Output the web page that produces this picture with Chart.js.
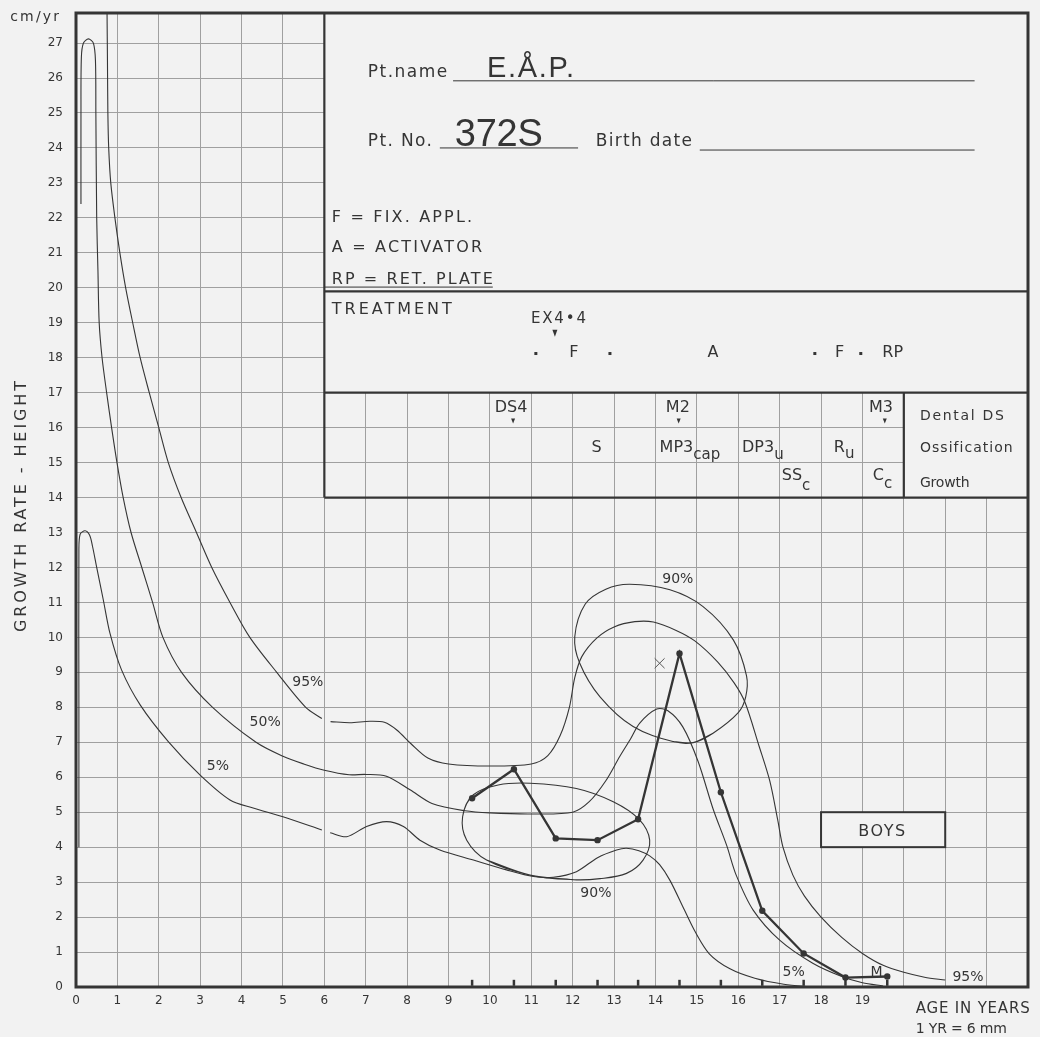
<!DOCTYPE html>
<html>
<head>
<meta charset="utf-8">
<script src="https://cdn.jsdelivr.net/npm/chart.js@4.4.1/dist/chart.umd.min.js"></script>
<style>
  html, body { margin: 0; background: #f2f2f2; }
  canvas { display: block; }
</style>
</head>
<body>
<canvas id="growth" width="1040" height="1037"></canvas>
<script>
const ink = '#353535';
const paper = '#f2f2f2';
const gridInk = '#a0a0a0';

// percentile curves as [age, cm/yr] pairs
const p95Early = [[0.75,27.86],[0.76,26.5],[0.77,25],[0.79,24],[0.84,23],[0.94,22],[1.06,21],[1.2,20],[1.37,19],[1.55,18],[1.77,17],[2.0,16],[2.23,15],[2.54,14],[2.91,13],[3.28,12],[3.72,11],[4.2,10],[4.85,9],[5.55,8],[5.94,7.68]];
const p95Late = [[6.15,7.59],[6.62,7.56],[7.1,7.6],[7.45,7.57],[7.75,7.35],[8.1,6.95],[8.5,6.55],[9.0,6.38],[10.0,6.32],[11.0,6.38],[11.4,6.62],[11.7,7.2],[11.92,8.0],[12.05,8.85],[12.22,9.45],[12.58,9.98],[13.0,10.3],[13.5,10.45],[13.95,10.44],[14.5,10.2],[14.95,9.9],[15.5,9.3],[15.9,8.7],[16.16,8.15],[16.5,6.9],[16.76,5.9],[16.95,4.8],[17.08,4.0],[17.32,3.2],[17.6,2.6],[18.0,2.0],[18.5,1.42],[19.0,0.96],[19.5,0.62],[20.0,0.42],[20.5,0.28],[21.0,0.2]];
const p50Curve = [[0.12,22.4],[0.12,25],[0.13,26.6],[0.18,27.0],[0.3,27.12],[0.42,27.0],[0.47,26.5],[0.48,25],[0.5,22],[0.53,20.5],[0.56,19],[0.63,18],[0.74,17],[0.86,16],[0.99,15],[1.14,14],[1.33,13],[1.59,12],[1.85,11],[2.1,10],[2.55,9],[3.3,8],[4.35,7],[5.0,6.6],[5.5,6.38],[6.0,6.2],[6.6,6.07],[7.0,6.08],[7.5,6.03],[8.07,5.64],[8.6,5.25],[9.4,5.04],[10.0,4.98],[11.0,4.95],[12.0,5.0],[12.4,5.3],[12.8,5.9],[13.14,6.6],[13.4,7.1],[13.62,7.55],[14.03,7.95],[14.3,7.9],[14.66,7.44],[15.03,6.45],[15.39,5.1],[15.72,4.05],[15.95,3.2],[16.36,2.2],[17.0,1.34],[17.8,0.68],[18.5,0.3],[19.0,0.12],[19.5,0.03]];
const p5Early = [[0.07,4.0],[0.07,8.0],[0.07,12.5],[0.1,12.95],[0.22,13.05],[0.33,12.92],[0.4,12.6],[0.5,12.0],[0.66,11.07],[0.82,10.12],[1.1,9.07],[1.55,8.07],[2.23,7.02],[3.0,6.06],[3.72,5.35],[4.28,5.12],[5.0,4.87],[5.94,4.49]];
const p5Late = [[6.14,4.41],[6.54,4.3],[7.02,4.59],[7.5,4.73],[7.91,4.59],[8.31,4.2],[8.79,3.92],[9.6,3.63],[10.4,3.35],[11.05,3.16],[11.53,3.14],[12.09,3.3],[12.6,3.7],[13.06,3.92],[13.3,3.97],[13.6,3.9],[13.86,3.75],[14.1,3.5],[14.35,3.05],[14.7,2.2],[14.95,1.6],[15.3,0.95],[15.8,0.52],[16.4,0.25],[17.1,0.08],[17.8,0.0]];
const ring90Upper = [[14.91,6.99],[14.43,7.02],[13.46,7.45],[12.66,8.3],[12.17,9.26],[12.05,10.02],[12.3,10.95],[12.8,11.38],[13.38,11.52],[14.35,11.36],[15.15,10.88],[15.88,9.93],[16.2,8.9],[16.18,8.3],[16.0,7.85],[15.39,7.26],[14.91,6.99]];
const ring90Lower = [[10.97,3.2],[9.92,3.63],[9.44,4.2],[9.34,4.87],[9.6,5.5],[10.2,5.78],[10.97,5.83],[12.09,5.68],[12.98,5.3],[13.6,4.8],[13.86,4.2],[13.7,3.63],[13.3,3.25],[12.66,3.1],[12.01,3.07],[10.97,3.2]];

// the patient
const patientAges = [9.57, 10.58, 11.59, 12.6, 13.58, 14.58, 15.58, 16.58, 17.58, 18.59, 19.6];
const patientRates = [5.4, 6.23, 4.25, 4.2, 4.8, 9.54, 5.57, 2.18, 0.96, 0.27, 0.3];
const peakCross = [[14.1, 9.26]];

const ageLabels = ['0','1','2','3','4','5','6','7','8','9','10','11','12','13','14','15','16','17','18','19'];
const curveLabels = ['95%', '50%', '5%', '90%', '90%', '5%', '95%', 'M'];
const curveLabelAt = [[5.6, 8.7], [4.57, 7.58], [3.43, 6.32], [14.54, 11.67], [12.56, 2.69], [17.34, 0.42], [21.55, 0.29], [19.34, 0.43]];

const FONT = '"DejaVu Sans", sans-serif';

const toXY = pts => pts.map(([x, y]) => ({ x, y }));
const curve = (pts, extra) => Object.assign({
    data: toXY(pts),
    showLine: true,
    borderColor: ink,
    borderWidth: 1.1,
    pointRadius: 0,
    tension: 0.3
}, extra || {});
// closed ring: carry one point over each end so the join is smooth
const ring = pts => curve([pts[pts.length - 2]].concat(pts, [pts[1]]), { tension: 0.35 });

// text spread so it runs from x0 to x1 (pixels)
function spacedText(ctx, s, x0, x1, y, font) {
    ctx.font = font;
    ctx.letterSpacing = '0px';
    const w = ctx.measureText(s).width;
    let gap = s.length > 1 ? (x1 - x0 - w) / (s.length - 1) : 0;
    if (gap < -1) gap = -1;
    ctx.letterSpacing = gap + 'px';
    ctx.textAlign = 'left';
    ctx.fillText(s, x0, y);
    ctx.letterSpacing = '0px';
}

function plainText(ctx, s, x, y, font, align) {
    ctx.font = font;
    ctx.letterSpacing = '0px';
    ctx.textAlign = align || 'center';
    ctx.fillText(s, x, y);
}

function arrowDown(ctx, x, y, w, h) {
    ctx.beginPath();
    ctx.moveTo(x - w / 2, y - h / 2);
    ctx.lineTo(x + w / 2, y - h / 2);
    ctx.lineTo(x, y + h / 2);
    ctx.closePath();
    ctx.fill();
}

const sheet = {
    id: 'sheet',
    beforeDatasetsDraw(chart) {
        const { ctx, chartArea: area, scales: { x, y } } = chart;
        const X = v => x.getPixelForValue(v);
        const Y = v => y.getPixelForValue(v);
        ctx.save();

        // blank panels over the grid
        ctx.fillStyle = paper;
        ctx.fillRect(X(6), area.top, X(23) - X(6), Y(17) - area.top);
        ctx.fillRect(X(20), Y(17), X(23) - X(20), Y(14) - Y(17));
        ctx.fillRect(X(18), Y(5), X(21) - X(18), Y(4) - Y(5));

        // panel rules
        ctx.strokeStyle = ink;
        ctx.lineWidth = 2.2;
        ctx.beginPath();
        ctx.moveTo(X(6), area.top); ctx.lineTo(X(6), Y(14));
        [19.9, 17, 14].forEach(v => { ctx.moveTo(X(6), Y(v)); ctx.lineTo(X(23), Y(v)); });
        ctx.moveTo(X(20), Y(17)); ctx.lineTo(X(20), Y(14));
        ctx.stroke();
        ctx.lineWidth = 2;
        ctx.strokeRect(X(18), Y(5), X(21) - X(18), Y(4) - Y(5));

        // underlines on the form
        ctx.lineWidth = 1;
        ctx.beginPath();
        [[9.11, 21.71, 25.92], [8.79, 12.13, 24.0], [15.07, 21.71, 23.94], [6.0, 10.07, 20.02]].forEach(([a, b, v]) => {
            ctx.moveTo(X(a), Y(v)); ctx.lineTo(X(b), Y(v));
        });
        ctx.stroke();

        ctx.fillStyle = ink;
        ctx.textBaseline = 'alphabetic';
        const f = s => s + 'px ' + FONT;
        spacedText(ctx, 'Pt.name', X(7.05), X(8.97), Y(26.03), f(17));
        spacedText(ctx, 'E.Å.P.', X(9.93), X(12.03), Y(26.03), '29px "Liberation Sans", sans-serif');
        spacedText(ctx, 'Pt. No.', X(7.05), X(8.6), Y(24.06), f(17));
        spacedText(ctx, '372S', X(9.15), X(11.28), Y(24.06), '38px "Liberation Sans", sans-serif');
        spacedText(ctx, 'Birth date', X(12.56), X(14.88), Y(24.06), f(17));
        spacedText(ctx, 'F = FIX. APPL.', X(6.18), X(9.57), Y(21.88), f(16));
        spacedText(ctx, 'A = ACTIVATOR', X(6.18), X(9.81), Y(21.02), f(16));
        spacedText(ctx, 'RP = RET. PLATE', X(6.18), X(10.07), Y(20.11), f(16));
        spacedText(ctx, 'TREATMENT', X(6.18), X(9.08), Y(19.25), f(16));
        spacedText(ctx, 'EX4•4', X(10.99), X(12.32), Y(18.99), f(15));
        arrowDown(ctx, X(11.57), Y(18.7), 5, 7);

        // treatment row
        [11.11, 12.9, 17.85, 18.96].forEach(v => ctx.fillRect(X(v) - 1.5, Y(18.12) - 1.5, 3, 3));
        [['F', 12.03], ['A', 15.39], ['F', 18.45], ['RP', 19.73]].forEach(([s, v]) => plainText(ctx, s, X(v), Y(18.02), f(16)));

        // dental / ossification / growth table
        [['DS4', 10.51], ['M2', 14.54], ['M3', 19.45]].forEach(([s, v]) => plainText(ctx, s, X(v), Y(16.45), f(16)));
        [10.56, 14.56, 19.54].forEach(v => arrowDown(ctx, X(v), Y(16.19), 4, 5));
        plainText(ctx, 'S', X(12.58), Y(15.3), f(16));
        const sub = (main, small, left, base, drop) => {
            plainText(ctx, main, X(left), Y(base), f(16), 'left');
            const w = ctx.measureText(main).width;
            plainText(ctx, small, X(left) + w, Y(base) + drop, f(15), 'left');
        };
        sub('MP3', 'cap', 14.1, 15.3, 7);
        sub('DP3', 'u', 16.09, 15.3, 7);
        sub('R', 'u', 18.31, 15.3, 6);
        sub('SS', 'c', 17.05, 14.5, 10);
        sub('C', 'c', 19.25, 14.5, 8);
        spacedText(ctx, 'Dental DS', X(20.39), X(22.42), Y(16.22), f(14));
        spacedText(ctx, 'Ossification', X(20.39), X(22.63), Y(15.3), f(14));
        spacedText(ctx, 'Growth', X(20.39), X(21.59), Y(14.3), f(14));

        spacedText(ctx, 'BOYS', X(18.9), X(20.03), Y(4.32), f(16));
        ctx.restore();
    },
    afterDatasetsDraw(chart) {
        const { ctx, chartArea: area, scales: { x, y } } = chart;
        const X = v => x.getPixelForValue(v);
        const Y = v => y.getPixelForValue(v);
        ctx.save();
        ctx.strokeStyle = ink;
        ctx.lineWidth = 3;
        ctx.strokeRect(area.left, area.top, area.right - area.left, area.bottom - area.top);

        ctx.fillStyle = ink;
        ctx.textBaseline = 'middle';
        curveLabels.forEach((s, i) => {
            const [a, b] = curveLabelAt[i];
            plainText(ctx, s, X(a), Y(b), '14px ' + FONT);
        });

        ctx.textBaseline = 'alphabetic';
        spacedText(ctx, 'cm/yr', X(-1.59), X(-0.41), Y(27.63), '14px ' + FONT);
        spacedText(ctx, 'AGE IN YEARS', X(20.29), X(23.04), Y(-0.74), '15px ' + FONT);
        spacedText(ctx, '1 YR = 6 mm', X(20.29), X(22.49), Y(-1.32), '14px ' + FONT);

        ctx.translate(26, 0);
        ctx.rotate(-Math.PI / 2);
        spacedText(ctx, 'GROWTH RATE - HEIGHT', -632, -381, 0, '16px ' + FONT);
        ctx.restore();
    }
};

Chart.defaults.font.family = FONT;
Chart.defaults.color = ink;

new Chart(document.getElementById('growth'), {
    type: 'scatter',
    data: {
        datasets: [
            curve(p95Early),
            curve(p95Late),
            curve(p50Curve),
            curve(p5Early),
            curve(p5Late),
            ring(ring90Upper),
            ring(ring90Lower),
            {
                data: patientAges.map((a, i) => ({ x: a, y: patientRates[i] })),
                showLine: true,
                borderColor: ink,
                borderWidth: 2.3,
                tension: 0,
                pointRadius: 3.2,
                pointBackgroundColor: ink,
                pointBorderWidth: 0
            },
            {
                data: patientAges.map(a => ({ x: a, y: 0.12 })),
                showLine: false,
                pointStyle: 'line',
                rotation: 90,
                pointRadius: 3,
                borderColor: ink,
                borderWidth: 2.5
            },
            {
                data: toXY(peakCross),
                showLine: false,
                pointStyle: 'crossRot',
                pointRadius: 7,
                borderColor: '#555',
                borderWidth: 1
            }
        ]
    },
    options: {
        responsive: false,
        animation: false,
        layout: { padding: { top: 13, right: 12, left: 0, bottom: 0 } },
        plugins: { legend: { display: false }, tooltip: { enabled: false } },
        scales: {
            x: {
                type: 'linear',
                min: 0,
                max: 23,
                afterFit: scale => { scale.height = 50; scale.paddingLeft = 0; scale.paddingRight = 0; },
                border: { display: false },
                grid: { color: gridInk, lineWidth: 1, drawTicks: false },
                ticks: {
                    stepSize: 1,
                    autoSkip: false,
                    maxRotation: 0,
                    padding: 7,
                    font: { size: 12 },
                    callback: v => ageLabels[v] ?? ''
                }
            },
            y: {
                min: 0,
                max: 27.86,
                afterFit: scale => { scale.width = 76; scale.paddingTop = 0; scale.paddingBottom = 0; },
                border: { display: false },
                grid: { color: gridInk, lineWidth: 1, drawTicks: false },
                ticks: {
                    stepSize: 1,
                    includeBounds: false,
                    padding: 13,
                    font: { size: 12 }
                }
            }
        }
    },
    plugins: [sheet]
});
</script>
</body>
</html>
